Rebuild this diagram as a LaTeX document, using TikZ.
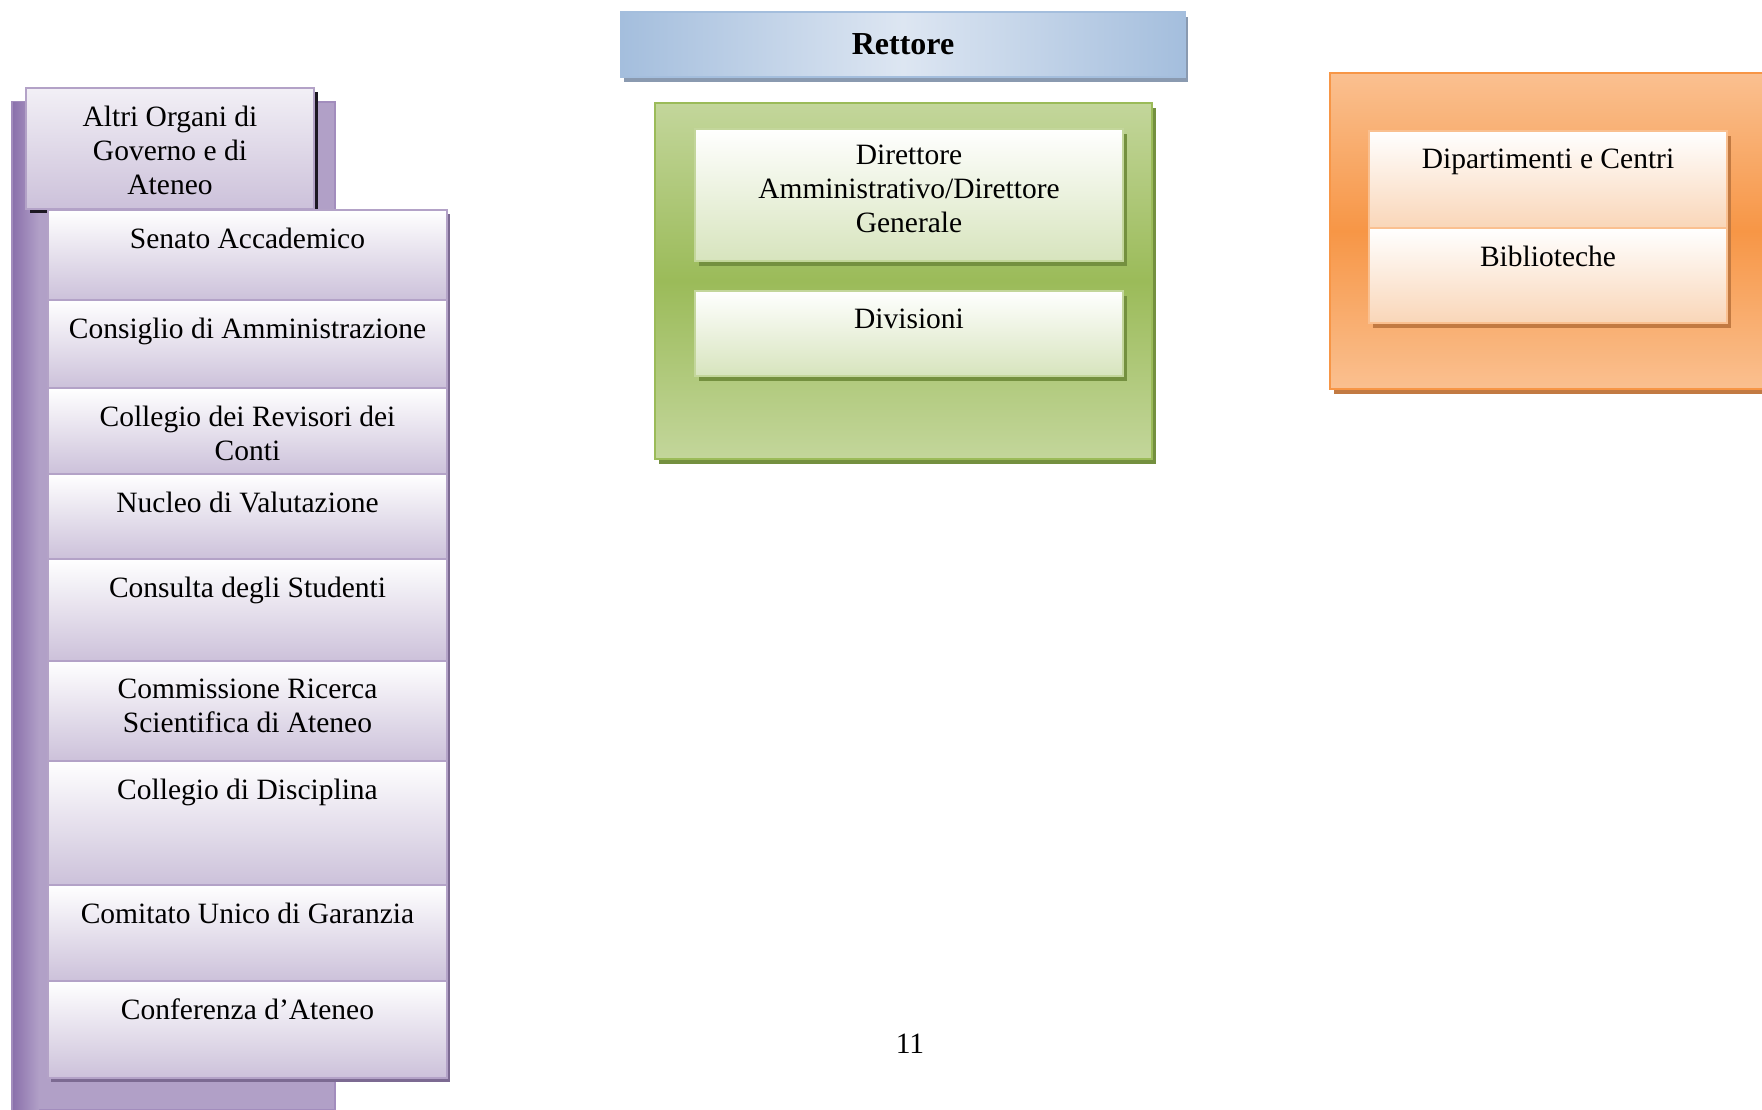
\documentclass[tikz,border=0pt]{standalone}
\usepackage{fontspec}
\setmainfont{Liberation Serif}
\usepackage{tikz}
\usetikzlibrary{positioning}
\definecolor{purpdark}{HTML}{8B71AC}
\definecolor{purpmid}{HTML}{B1A0C7}
\definecolor{purpbot}{HTML}{CCC1DA}
\definecolor{purpline}{HTML}{B3A2C7}
\definecolor{purpshadow}{HTML}{7C6A92}
\definecolor{bluedge}{HTML}{A4BEDD}
\definecolor{bluemid}{HTML}{DDE6F2}
\definecolor{blueshadow}{HTML}{8A9AB0}
\definecolor{greenlight}{HTML}{C3D69B}
\definecolor{greendark}{HTML}{9BBB59}
\definecolor{greenbot}{HTML}{D7E4BD}
\definecolor{greenshadow}{HTML}{74903F}
\definecolor{orangelight}{HTML}{FAC090}
\definecolor{orangedark}{HTML}{F79646}
\definecolor{orangebot}{HTML}{F9D6B8}
\definecolor{orangeshadow}{HTML}{C27A42}

\tikzset{
  box/.style={anchor=north west,inner sep=0pt,line width=2pt},
  lbl/.style={inner sep=0pt,align=center,font=\fontsize{29.5}{34}\selectfont},
  purpitem/.style={box,draw=purpline,top color=white,bottom color=purpbot,minimum width=399pt},
  greenitem/.style={box,draw=greenlight,top color=white,bottom color=greenbot,minimum width=428pt},
  orangeitem/.style={box,draw=orangelight,top color=white,bottom color=orangebot,minimum width=358pt}
}

\begin{document}
\begin{tikzpicture}[x=1pt,y=-1pt]
  \useasboundingbox (0,0) rectangle (1762,1110);
  \clip (0,0) rectangle (1762,1110);

  % left column
  \node[box,draw=purpdark!80,fill=purpmid,minimum width=323pt,minimum height=1008pt] (organi) at (11,101) {};
  \node[box,draw=none,left color=purpdark,right color=purpmid,minimum width=26pt,minimum height=1006pt] (organiedge) at (12,102) {};
  \node[box,fill=black!80!purpdark,minimum width=288pt,minimum height=121pt] (altrishadow) at (29,91) {};
  \node[box,draw=purpline,top color=purpbot!25,bottom color=purpbot,minimum width=288pt,minimum height=121pt] (altri) at (25,87) {};
  \node[lbl,below=19pt of altri.north] (altriT) {Altri Organi di\\Governo e di\\Ateneo};

  \node[box,fill=purpshadow,minimum width=399pt,minimum height=868pt] (listshadow) at (50,213) {};
  \node[purpitem,minimum height=90pt] (senato) at (47,209) {};
  \node[lbl,below=19pt of senato.north] (senatoT) {Senato Accademico};
  \node[purpitem,minimum height=88pt] (consiglio) at (47,299) {};
  \node[lbl,below=19pt of consiglio.north] (consiglioT) {Consiglio di Amministrazione};
  \node[purpitem,minimum height=86pt] (revisori) at (47,387) {};
  \node[lbl,below=19pt of revisori.north] (revisoriT) {Collegio dei Revisori dei\\Conti};
  \node[purpitem,minimum height=85pt] (nucleo) at (47,473) {};
  \node[lbl,below=19pt of nucleo.north] (nucleoT) {Nucleo di Valutazione};
  \node[purpitem,minimum height=102pt] (consulta) at (47,558) {};
  \node[lbl,below=19pt of consulta.north] (consultaT) {Consulta degli Studenti};
  \node[purpitem,minimum height=100pt] (ricerca) at (47,660) {};
  \node[lbl,below=19pt of ricerca.north] (ricercaT) {Commissione Ricerca\\Scientifica di Ateneo};
  \node[purpitem,minimum height=124pt] (disciplina) at (47,760) {};
  \node[lbl,below=19pt of disciplina.north] (disciplinaT) {Collegio di Disciplina};
  \node[purpitem,minimum height=96pt] (garanzia) at (47,884) {};
  \node[lbl,below=19pt of garanzia.north] (garanziaT) {Comitato Unico di Garanzia};
  \node[purpitem,minimum height=97pt] (conferenza) at (47,980) {};
  \node[lbl,below=19pt of conferenza.north] (conferenzaT) {Conferenza d’Ateneo};

  % centre column
  \node[box,fill=blueshadow,minimum width=564pt,minimum height=65pt] (rettoreshadow) at (623,16) {};
  \node[box,draw=bluedge,left color=bluedge,right color=bluedge,middle color=bluemid,minimum width=564pt,minimum height=65pt] (rettore) at (620,11) {};
  \node[lbl,font=\fontsize{32}{36}\selectfont\bfseries] (rettoreT) at (rettore.center) {Rettore};

  \node[box,fill=greenshadow,minimum width=497pt,minimum height=356pt] (amminshadow) at (658,107) {};
  \node[box,draw=greendark,top color=greenlight,bottom color=greenlight,middle color=greendark,minimum width=497pt,minimum height=356pt] (ammin) at (654,102) {};
  \node[box,fill=greenshadow,minimum width=428pt,minimum height=132pt] (direttoreshadow) at (698,133) {};
  \node[greenitem,minimum height=132pt] (direttore) at (694,128) {};
  \node[lbl,below=17pt of direttore.north] (direttoreT) {Direttore\\Amministrativo/Direttore\\Generale};
  \node[box,fill=greenshadow,minimum width=428pt,minimum height=85pt] (divisionishadow) at (698,295) {};
  \node[greenitem,minimum height=85pt] (divisioni) at (694,290) {};
  \node[lbl,below=19pt of divisioni.north] (divisioniT) {Divisioni};

  % right column
  \node[box,fill=orangeshadow,minimum width=480pt,minimum height=316pt] (struttureshadow) at (1333,77) {};
  \node[box,draw=orangedark,top color=orangelight,bottom color=orangelight,middle color=orangedark,minimum width=480pt,minimum height=316pt] (strutture) at (1329,72) {};
  \node[box,fill=orangeshadow,minimum width=358pt,minimum height=192pt] (dipshadow) at (1372,135) {};
  \node[orangeitem,minimum height=97pt] (dipartimenti) at (1368,130) {};
  \node[lbl,below=19pt of dipartimenti.north] (dipartimentiT) {Dipartimenti e Centri};
  \node[orangeitem,minimum height=95pt] (biblioteche) at (1368,227) {};
  \node[lbl,below=19pt of biblioteche.north] (bibliotecheT) {Biblioteche};

  % page number
  \node[lbl] (pagina) at (910,1044) {11};
\end{tikzpicture}
\end{document}
